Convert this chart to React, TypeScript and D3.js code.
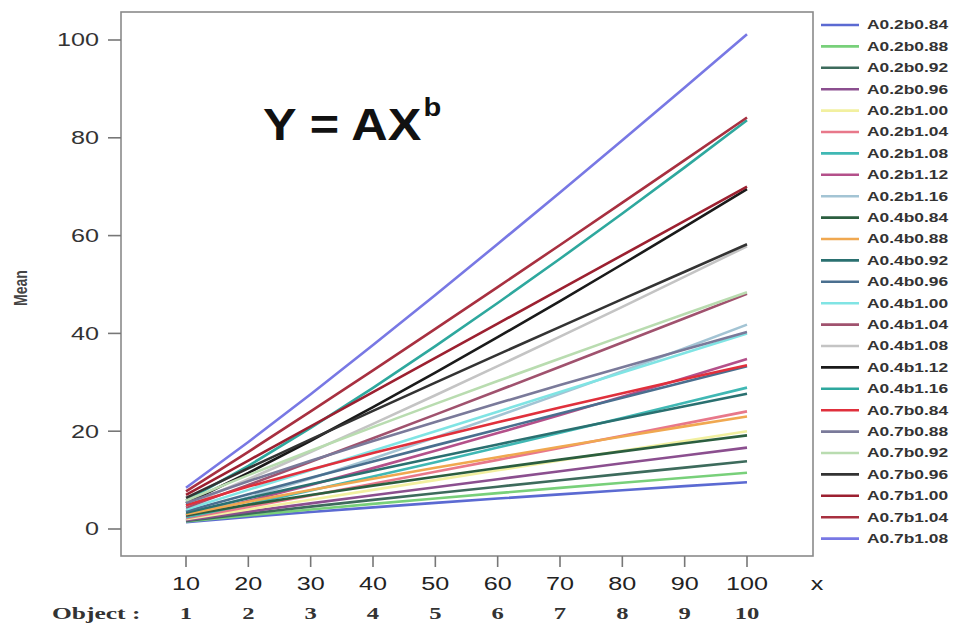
import React from "react";
import * as d3 from "d3";

const xValues = [10, 20, 30, 40, 50, 60, 70, 80, 90, 100];
const objectLabels = ["1", "2", "3", "4", "5", "6", "7", "8", "9", "10"];
const yTicks = [0, 20, 40, 60, 80, 100];

const seriesNames = [
  "A0.2b0.84", "A0.2b0.88", "A0.2b0.92", "A0.2b0.96", "A0.2b1.00", "A0.2b1.04", "A0.2b1.08", "A0.2b1.12", "A0.2b1.16",
  "A0.4b0.84", "A0.4b0.88", "A0.4b0.92", "A0.4b0.96", "A0.4b1.00", "A0.4b1.04", "A0.4b1.08", "A0.4b1.12", "A0.4b1.16",
  "A0.7b0.84", "A0.7b0.88", "A0.7b0.92", "A0.7b0.96", "A0.7b1.00", "A0.7b1.04", "A0.7b1.08",
];

const A02b084 = [1.38, 2.48, 3.48, 4.43, 5.35, 6.23, 7.09, 7.94, 8.76, 9.57];
const A02b088 = [1.52, 2.79, 3.99, 5.14, 6.25, 7.34, 8.41, 9.46, 10.49, 11.51];
const A02b092 = [1.66, 3.15, 4.57, 5.96, 7.31, 8.65, 9.97, 11.27, 12.56, 13.84];
const A02b096 = [1.82, 3.55, 5.24, 6.9, 8.55, 10.19, 11.81, 13.43, 15.04, 16.64];
const A02b100 = [2, 4, 6, 8, 10, 12, 14, 16, 18, 20];
const A02b104 = [2.19, 4.51, 6.87, 9.27, 11.69, 14.14, 16.59, 19.07, 21.55, 24.05];
const A02b108 = [2.4, 5.08, 7.88, 10.75, 13.67, 16.65, 19.67, 22.72, 25.8, 28.91];
const A02b112 = [2.64, 5.73, 9.02, 12.45, 15.99, 19.61, 23.31, 27.07, 30.89, 34.76];
const A02b116 = [2.89, 6.46, 10.34, 14.44, 18.7, 23.1, 27.63, 32.26, 36.98, 41.79];
const A04b084 = [2.77, 4.95, 6.96, 8.87, 10.7, 12.47, 14.19, 15.87, 17.52, 19.15];
const A04b088 = [3.03, 5.58, 7.98, 10.28, 12.51, 14.68, 16.82, 18.91, 20.98, 23.02];
const A04b092 = [3.33, 6.3, 9.14, 11.91, 14.63, 17.3, 19.93, 22.54, 25.12, 27.67];
const A04b096 = [3.65, 7.1, 10.47, 13.81, 17.1, 20.37, 23.62, 26.86, 30.07, 33.27];
const A04b100 = [4, 8, 12, 16, 20, 24, 28, 32, 36, 40];
const A04b104 = [4.39, 9.02, 13.75, 18.54, 23.39, 28.27, 33.19, 38.13, 43.1, 48.09];
const A04b108 = [4.81, 10.17, 15.75, 21.49, 27.35, 33.3, 39.33, 45.44, 51.6, 57.82];
const A04b112 = [5.27, 11.46, 18.05, 24.91, 31.98, 39.23, 46.62, 54.14, 61.77, 69.51];
const A04b116 = [5.78, 12.92, 20.68, 28.87, 37.4, 46.21, 55.26, 64.51, 73.96, 83.59];
const A07b084 = [4.84, 8.67, 12.19, 15.52, 18.72, 21.81, 24.83, 27.78, 30.67, 33.5];
const A07b088 = [5.31, 9.77, 13.96, 17.99, 21.89, 25.7, 29.43, 33.1, 36.71, 40.28];
const A07b092 = [5.82, 11.02, 16.0, 20.84, 25.59, 30.27, 34.88, 39.44, 43.95, 48.43];
const A07b096 = [6.38, 12.42, 18.33, 24.16, 29.93, 35.66, 41.34, 47.0, 52.62, 58.22];
const A07b100 = [7, 14, 21, 28, 35, 42, 49, 56, 63, 70];
const A07b104 = [7.68, 15.78, 24.06, 32.45, 40.93, 49.47, 58.08, 66.73, 75.42, 84.16];
const A07b108 = [8.42, 17.79, 27.57, 37.61, 47.86, 58.28, 68.83, 79.51, 90.3, 101.18];

const seriesValues = [
  A02b084, A02b088, A02b092, A02b096, A02b100, A02b104, A02b108, A02b112, A02b116,
  A04b084, A04b088, A04b092, A04b096, A04b100, A04b104, A04b108, A04b112, A04b116,
  A07b084, A07b088, A07b092, A07b096, A07b100, A07b104, A07b108,
];

const seriesColors = [
  "#5b6ad2", "#78d07a", "#3d6b5c", "#8b4f8f", "#f2f0a0", "#e8788a", "#40b8b4", "#b4508a", "#a3c4d4",
  "#2b5e3f", "#f0a850", "#2a7070", "#4a6f8f", "#80e4e4", "#a0526e", "#c4c4c4", "#1a1a1a", "#2ea89e",
  "#e0303c", "#7a7a9a", "#b9dcb0", "#333333", "#9c2030", "#a83040", "#7878e4",
];

export default function App() {
  const W = 973;
  const H = 626;
  const left = 121, right = 813, top = 12, bottom = 556;
  const x = d3.scaleLinear().domain([10, 100]).range([186, 747]);
  const y = d3.scaleLinear().domain([0, 100]).range([529, 40]);
  const line = d3
    .line<number>()
    .x((_, i) => x(xValues[i]))
    .y((v) => y(v));

  const legendY0 = 25;
  const legendStep = 21.4;
  const sans = "Arial, 'Liberation Sans', sans-serif";
  const serif = "'Liberation Serif', 'DejaVu Serif', serif";
  const sx = 1.4;

  return (
    <svg
      width={W}
      height={H}
      style={{ position: "absolute", left: 0, top: 0, background: "#fff" }}
    >
      <rect x={0} y={0} width={W} height={H} fill="#fff" />
      <rect x={left} y={top} width={right - left} height={bottom - top} fill="none" stroke="#8a8a8a" strokeWidth={1.6} />

      {yTicks.map((t) => (
        <g key={"y" + t}>
          <line x1={left - 13} x2={left} y1={y(t)} y2={y(t)} stroke="#777" strokeWidth={1.6} />
          <text
            transform={`translate(99,${y(t)}) scale(${sx},1)`}
            dy="0.36em"
            textAnchor="end"
            fontFamily={sans}
            fontSize={18}
            fill="#333"
          >
            {t}
          </text>
        </g>
      ))}
      <text
        transform={`translate(27,288) scale(1.35,1) rotate(-90)`}
        textAnchor="middle"
        fontFamily={sans}
        fontSize={14}
        fontWeight="bold"
        fill="#444"
      >
        Mean
      </text>

      {xValues.map((v, i) => (
        <g key={"x" + v}>
          <line x1={x(v)} x2={x(v)} y1={bottom} y2={bottom + 11} stroke="#777" strokeWidth={1.6} />
          <text
            transform={`translate(${x(v)},590) scale(${sx},1)`}
            textAnchor="middle"
            fontFamily={sans}
            fontSize={18}
            fill="#222"
          >
            {v}
          </text>
          <text
            transform={`translate(${x(v)},619) scale(1.45,1)`}
            textAnchor="middle"
            fontFamily={serif}
            fontSize={17}
            fontWeight="bold"
            fill="#333"
          >
            {objectLabels[i]}
          </text>
        </g>
      ))}
      <text
        transform={`translate(817,590) scale(${sx},1)`}
        textAnchor="middle"
        fontFamily={sans}
        fontSize={18}
        fill="#222"
      >
        x
      </text>
      <text
        transform={`translate(52,619) scale(1.5,1)`}
        fontFamily={serif}
        fontSize={17}
        fontWeight="bold"
        fill="#333"
      >
        Object :
      </text>

      <text
        transform={`translate(263,140) scale(1.12,1)`}
        fontFamily={sans}
        fontSize={45}
        fontWeight="bold"
        fill="#111"
      >
        Y = AX
        <tspan fontSize={26} dy={-24} dx={2}>b</tspan>
      </text>

      {seriesValues.map((vals, i) => (
        <path
          key={seriesNames[i]}
          d={line(vals) || ""}
          fill="none"
          stroke={seriesColors[i]}
          strokeWidth={2.6}
        />
      ))}

      {seriesNames.map((name, i) => {
        const ly = legendY0 + i * legendStep;
        return (
          <g key={"lg" + name}>
            <line x1={821} x2={859} y1={ly} y2={ly} stroke={seriesColors[i]} strokeWidth={2.6} />
            <text
              transform={`translate(867,${ly}) scale(1.45,1)`}
              dy="0.36em"
              fontFamily={sans}
              fontSize={12}
              fontWeight="bold"
              fill="#333"
            >
              {name}
            </text>
          </g>
        );
      })}
    </svg>
  );
}
